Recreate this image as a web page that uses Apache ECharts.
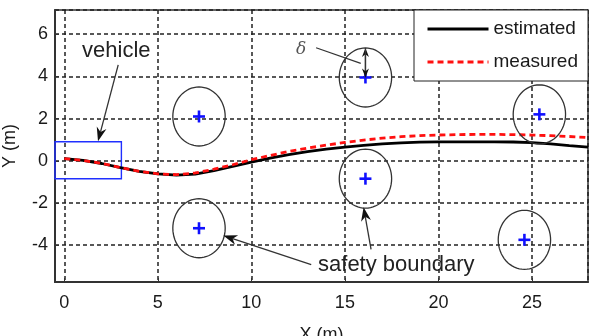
<!DOCTYPE html>
<html lang="en">
    <head>
        <meta charset="UTF-8">
        <title>Trajectory and obstacles</title>
        <script src="https://cdn.jsdelivr.net/npm/echarts@6/dist/echarts.min.js"></script>
        <style>
            html, body { margin: 0; padding: 0; background: #fff; }
            #main { width: 595px; height: 336px; }
        </style>
    </head>

    <body>
        <div id="main"></div>

        <script>
            // 轨迹数据 (X, m)
            var xs = [0, 1, 2, 3, 4, 5, 6, 7, 8, 9, 10, 11, 12, 13, 14, 15, 16, 17, 18, 19, 20, 21, 22, 23, 24, 25, 26, 27, 28];
            var estimated = [0.1, 0.02, -0.13, -0.32, -0.5, -0.62, -0.68, -0.63, -0.47, -0.27, -0.06, 0.12, 0.29, 0.43, 0.55, 0.65, 0.73, 0.8, 0.85, 0.88, 0.9, 0.9, 0.9, 0.9, 0.89, 0.86, 0.8, 0.72, 0.65];
            var measured = [0.1, 0.02, -0.13, -0.32, -0.5, -0.62, -0.66, -0.58, -0.4, -0.19, 0.05, 0.25, 0.44, 0.6, 0.74, 0.87, 0.98, 1.07, 1.14, 1.19, 1.22, 1.24, 1.25, 1.25, 1.24, 1.22, 1.19, 1.15, 1.1];

            // 障碍物中心和安全半径
            var obstacleX = [7.2, 7.2, 16.1, 16.1, 25.4, 24.6];
            var obstacleY = [2.1, -3.2, 3.95, -0.85, 2.2, -3.75];
            var safetyRadius = 1.4;

            // 车辆框 [xmin, xmax, ymin, ymax]
            var vehicleBox = [-0.5, 3.05, -0.85, 0.9];

            // 坐标轴范围
            var xRange = [-0.5, 28];
            var yRange = [-5.75, 7.15];

            // 注释 (数据坐标)
            var labels = [['vehicle', 2.78, 5.2], ['safety boundary', 17.75, -4.93]];
            var arrows = [[2.88, 4.55, 1.8, 0.92], [13.2, -4.93, 8.5, -3.55], [16.4, -4.2, 16.0, -2.2]];
            var deltaLabel = ['δ', 12.66, 5.26];
            var deltaLeader = [13.46, 5.36, 15.85, 4.62];

            var font = "'Liberation Sans', Arial, sans-serif";
            var chart = echarts.init(document.getElementById('main'), null, { renderer: 'canvas' });

            function pairs(ys) {
                return xs.map(function (x, i) { return [x, ys[i]]; });
            }

            var obstacles = obstacleX.map(function (x, i) { return [x, obstacleY[i]]; });

            function renderObstacle(params, api) {
                var cx = api.value(0), cy = api.value(1);
                var pts = [];
                for (var k = 0; k < 64; k++) {
                    var a = k / 64 * Math.PI * 2;
                    pts.push(api.coord([cx + safetyRadius * Math.cos(a), cy + safetyRadius * Math.sin(a)]));
                }
                var c = api.coord([cx, cy]);
                return {
                    type: 'group',
                    children: [
                        { type: 'polygon', shape: { points: pts }, style: { fill: null, stroke: '#333', lineWidth: 1.3 } },
                        { type: 'line', shape: { x1: c[0] - 6, y1: c[1], x2: c[0] + 6, y2: c[1] }, style: { stroke: '#1010ff', lineWidth: 2.6 } },
                        { type: 'line', shape: { x1: c[0], y1: c[1] - 6, x2: c[0], y2: c[1] + 6 }, style: { stroke: '#1010ff', lineWidth: 2.6 } }
                    ]
                };
            }

            function renderVehicle(params, api) {
                var p0 = api.coord([api.value(0), api.value(3)]);
                var p1 = api.coord([api.value(1), api.value(2)]);
                return {
                    type: 'rect',
                    shape: { x: p0[0], y: p0[1], width: p1[0] - p0[0], height: p1[1] - p0[1] },
                    style: { fill: null, stroke: '#2030ff', lineWidth: 1.4 }
                };
            }

            chart.setOption({
                animation: false,
                textStyle: { fontFamily: font },
                grid: {
                    left: 55, right: 7, top: 10, bottom: 54,
                    outerBoundsMode: 'none',
                    containLabel: false,
                    show: true, borderColor: '#333', borderWidth: 1.5
                },
                legend: {
                    orient: 'vertical',
                    right: 7, top: 10,
                    padding: [9, 10, 9, 12],
                    itemGap: 13,
                    itemWidth: 61,
                    itemHeight: 20,
                    backgroundColor: '#fff',
                    borderColor: '#222',
                    borderWidth: 1,
                    borderRadius: 0,
                    itemStyle: { opacity: 0 },
                    lineStyle: { width: 3 },
                    textStyle: { fontFamily: font, fontSize: 19, color: '#1a1a1a', lineHeight: 20 },
                    data: ['estimated', 'measured']
                },
                xAxis: {
                    type: 'value',
                    min: xRange[0], max: xRange[1],
                    splitNumber: 6,
                    name: 'X (m)',
                    nameLocation: 'middle',
                    nameGap: 44,
                    nameTextStyle: { fontFamily: font, fontSize: 18, color: '#1a1a1a' },
                    axisLine: { onZero: false, lineStyle: { color: '#333', width: 2 } },
                    axisTick: { inside: true, length: 4, lineStyle: { color: '#333' } },
                    axisLabel: { fontFamily: font, fontSize: 18, color: '#1a1a1a', margin: 12, showMinLabel: false, showMaxLabel: false },
                    splitLine: { show: true, lineStyle: { color: '#222', width: 1.5, type: [4, 3] } }
                },
                yAxis: {
                    type: 'value',
                    min: yRange[0], max: yRange[1],
                    splitNumber: 6,
                    name: 'Y (m)',
                    nameLocation: 'middle',
                    nameGap: 36,
                    nameTextStyle: { fontFamily: font, fontSize: 18, color: '#1a1a1a' },
                    axisLine: { onZero: false, lineStyle: { color: '#333', width: 2 } },
                    axisTick: { inside: true, length: 4, lineStyle: { color: '#333' } },
                    axisLabel: { fontFamily: font, fontSize: 18, color: '#1a1a1a', margin: 7, showMinLabel: false, showMaxLabel: false },
                    splitLine: { show: true, lineStyle: { color: '#222', width: 1.5, type: [4, 3] } }
                },
                series: [
                    {
                        name: 'vehicle',
                        type: 'custom',
                        renderItem: renderVehicle,
                        data: [vehicleBox],
                        z: 3
                    },
                    {
                        name: 'estimated',
                        type: 'line',
                        data: pairs(estimated),
                        symbol: 'none',
                        lineStyle: { color: '#000', width: 2.8 },
                        itemStyle: { color: '#000', opacity: 0 },
                        z: 4
                    },
                    {
                        name: 'measured',
                        type: 'line',
                        data: pairs(measured),
                        symbol: 'none',
                        lineStyle: { color: '#ff1010', width: 2.8, type: [6, 4] },
                        itemStyle: { color: '#ff1010', opacity: 0 },
                        z: 5
                    },
                    {
                        name: 'obstacles',
                        type: 'custom',
                        renderItem: renderObstacle,
                        data: obstacles,
                        z: 6
                    }
                ]
            });

            // 注释: 文字和箭头
            function px(x, y) {
                return chart.convertToPixel({ gridIndex: 0 }, [x, y]);
            }

            function arrowEls(p0, p1, headLen, headW) {
                var dx = p1[0] - p0[0], dy = p1[1] - p0[1];
                var len = Math.sqrt(dx * dx + dy * dy), ux = dx / len, uy = dy / len;
                var base = [p1[0] - ux * headLen, p1[1] - uy * headLen];
                var notch = [p1[0] - ux * headLen * 0.7, p1[1] - uy * headLen * 0.7];
                return [
                    { type: 'line', shape: { x1: p0[0], y1: p0[1], x2: notch[0], y2: notch[1] }, style: { stroke: '#333', lineWidth: 1.3 }, z: 10 },
                    { type: 'polygon', shape: { points: [p1, [base[0] - uy * headW / 2, base[1] + ux * headW / 2], notch, [base[0] + uy * headW / 2, base[1] - ux * headW / 2]] }, style: { fill: '#111' }, z: 10 }
                ];
            }

            var elements = [];
            labels.forEach(function (l) {
                var p = px(l[1], l[2]);
                elements.push({
                    type: 'text', x: p[0], y: p[1], z: 10,
                    style: { text: l[0], fontFamily: font, fontSize: 22, fill: '#222', align: 'center', verticalAlign: 'middle' }
                });
            });
            arrows.forEach(function (a) {
                elements = elements.concat(arrowEls(px(a[0], a[1]), px(a[2], a[3]), 14, 10));
            });
            var dp = px(deltaLabel[1], deltaLabel[2]);
            elements.push({
                type: 'text', x: dp[0], y: dp[1], z: 10,
                style: { text: deltaLabel[0], fontFamily: "'DejaVu Serif', serif", fontStyle: 'italic', fontSize: 17, fill: '#555', align: 'center', verticalAlign: 'middle' }
            });
            var l0 = px(deltaLeader[0], deltaLeader[1]), l1 = px(deltaLeader[2], deltaLeader[3]);
            elements.push({ type: 'line', shape: { x1: l0[0], y1: l0[1], x2: l1[0], y2: l1[1] }, style: { stroke: '#333', lineWidth: 1.2 }, z: 10 });
            var c0 = px(obstacleX[2], obstacleY[2]), c1 = px(obstacleX[2], obstacleY[2] + safetyRadius);
            elements = elements.concat(arrowEls(c0, c1, 9, 7));
            elements = elements.concat(arrowEls(c1, c0, 9, 7));

            chart.setOption({ graphic: { elements: elements } });
        </script>
    </body>

</html>
